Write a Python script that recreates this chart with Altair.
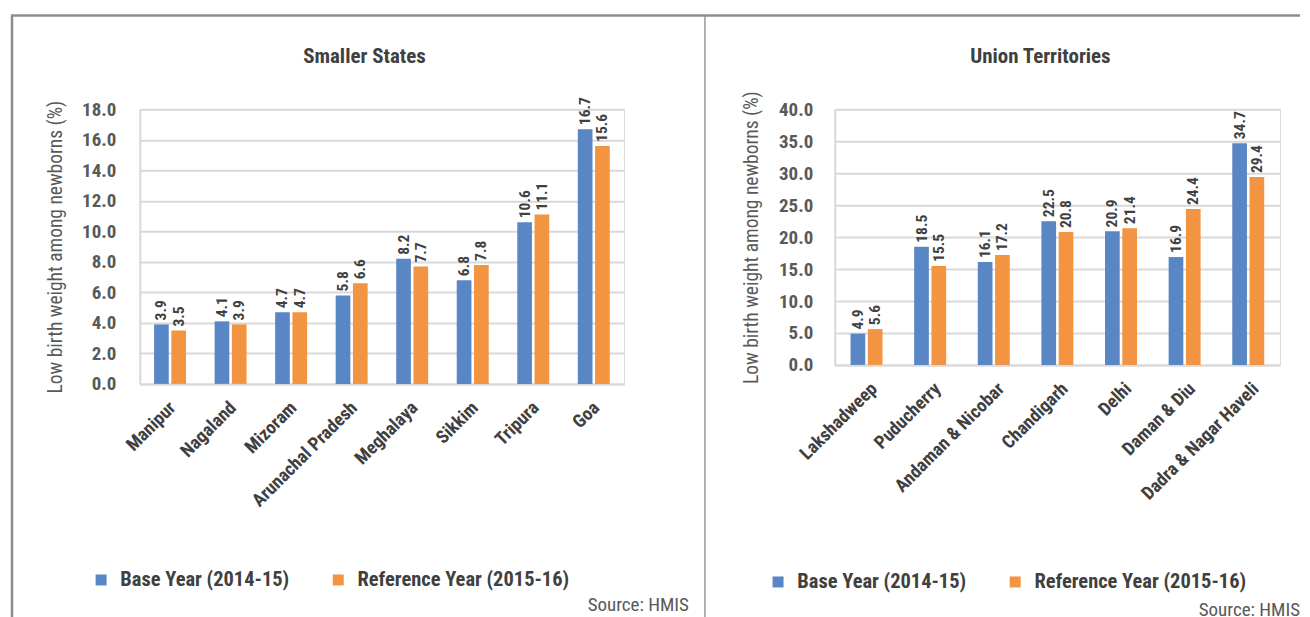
import altair as alt
import pandas as pd

FONT = "Liberation Sans Narrow, Roboto Condensed, DejaVu Sans Condensed, Roboto, sans-serif"

series = ["Base Year (2014-15)", "Reference Year (2015-16)"]
series_colors = ["#5987C5", "#F39442"]

state_names = ["Manipur", "Nagaland", "Mizoram", "Arunachal Pradesh",
               "Meghalaya", "Sikkim", "Tripura", "Goa"]
state_base = [3.9, 4.1, 4.7, 5.8, 8.2, 6.8, 10.6, 16.7]
state_ref = [3.5, 3.9, 4.7, 6.6, 7.7, 7.8, 11.1, 15.6]
state_ticks = [0, 2, 4, 6, 8, 10, 12, 14, 16, 18]

ut_names = ["Lakshadweep", "Puducherry", "Andaman & Nicobar", "Chandigarh",
            "Delhi", "Daman & Diu", "Dadra & Nagar Haveli"]
ut_base = [4.9, 18.5, 16.1, 22.5, 20.9, 16.9, 34.7]
ut_ref = [5.6, 15.5, 17.2, 20.8, 21.4, 24.4, 29.4]
ut_ticks = [0, 5, 10, 15, 20, 25, 30, 35, 40]

titles = ["Smaller States", "Union Territories"]
y_title = "Low birth weight among newborns (%)"
source_text = "Source: HMIS"

TXT = "#404040"
GRAY = "#595959"
GRID = "#d9d9d9"
FRAME = "#8c8c8c"


def long_df(names, a, b):
    rows = []
    for n, v1, v2 in zip(names, a, b):
        rows.append({"cat": n, "series": series[0], "value": v1})
        rows.append({"cat": n, "series": series[1], "value": v2})
    return pd.DataFrame(rows)


def panel(names, a, b, ticks, title, w, h, pad_inner, title_x, ytitle_x,
          ylabel_pad, xlabel_off, legend_x, legend_y, source_x, source_y,
          frame_rules):
    df = long_df(names, a, b)
    base = alt.Chart(df)
    x = alt.X("cat:N", sort=names, title=None,
              scale=alt.Scale(paddingInner=pad_inner, paddingOuter=pad_inner / 2),
              axis=alt.Axis(labelAngle=-45, labelAlign="right", labelBaseline="top",
                            labelPadding=14, labelOffset=xlabel_off,
                            labelFontSize=18.5, labelFontWeight="bold",
                            labelColor=TXT, labelFont=FONT,
                            ticks=False, tickSize=0, domainColor=GRID, domainWidth=2,
                            grid=False, labelLimit=300))
    xo = alt.XOffset("series:N", sort=series,
                     scale=alt.Scale(paddingInner=0.15, paddingOuter=0))
    y = alt.Y("value:Q", scale=alt.Scale(domain=[ticks[0], ticks[-1]], nice=False),
              axis=alt.Axis(values=ticks, format=".1f", labelFontSize=19,
                            labelFontWeight="bold", labelColor=GRAY, labelFont=FONT,
                            labelPadding=ylabel_pad, ticks=False, tickSize=0,
                            domainColor=GRID, domainWidth=2, gridColor=GRID,
                            gridWidth=2, title=y_title, titleFontSize=19.5,
                            titleFontWeight="normal", titleColor=GRAY,
                            titleFont=FONT, titleX=ytitle_x, titleY=h / 2,
                            titleAngle=270, titleAlign="center",
                            titleBaseline="middle"))
    color = alt.Color("series:N",
                      scale=alt.Scale(domain=series, range=series_colors),
                      legend=alt.Legend(orient="none", legendX=legend_x,
                                        legendY=legend_y, direction="horizontal",
                                        title=None, symbolType="square",
                                        symbolSize=121, symbolStrokeWidth=0,
                                        labelFontSize=20.5, labelFontWeight="bold",
                                        labelColor=TXT, labelFont=FONT,
                                        labelOffset=9, columnPadding=38.5,
                                        padding=0, labelLimit=400))
    bars = base.mark_bar().encode(x=x, xOffset=xo, y=y, color=color)
    labels = base.mark_text(angle=270, align="left", baseline="middle", dx=4,
                            fontSize=15.5, fontWeight="bold", color=TXT,
                            font=FONT).encode(
        x=x, xOffset=xo, y=y, text=alt.Text("value:Q", format=".1f"))
    one = alt.Data(values=[{"k": 0}])
    layers = [bars, labels]
    for r in frame_rules:
        rule = alt.Chart(one).mark_rule(color=r["c"], strokeWidth=r["sw"])
        if r["kind"] == "v":
            rule = rule.encode(x=alt.value(r["x"]), y=alt.value(r["y"]),
                               y2=alt.value(r["y2"]))
        else:
            rule = rule.encode(x=alt.value(r["x"]), x2=alt.value(r["x2"]),
                               y=alt.value(r["y"]))
        layers.append(rule)
    src = alt.Chart(one).mark_text(align="right", baseline="middle", fontSize=19,
                                   color=GRAY, font=FONT).encode(
        x=alt.value(source_x), y=alt.value(source_y), text=alt.value(source_text))
    ttl = alt.Chart(one).mark_text(align="center", baseline="middle", fontSize=21,
                                   fontWeight="bold", color=TXT, font=FONT).encode(
        x=alt.value(title_x), y=alt.value(-52), text=alt.value(title))
    layers += [src, ttl]
    return alt.layer(*layers).properties(width=w, height=h)


left = panel(state_names, state_base, state_ref, state_ticks, titles[0],
             485, 275, 0.472, 225, -84, 24, -4, -49, 461, 550, 496,
             [{"kind": "v", "x": -128, "y": -94, "y2": 514, "c": FRAME, "sw": 2.5},
              {"kind": "h", "x": -129, "x2": 566, "y": -94, "c": FRAME, "sw": 2.5}])
right = panel(ut_names, ut_base, ut_ref, ut_ticks, titles[1],
              446, 256, 0.498, 206, -83, 22, 1, -67, 463, 466, 501,
              [{"kind": "v", "x": -130, "y": -94, "y2": 514, "c": "#999999", "sw": 1.5},
               {"kind": "h", "x": -130, "x2": 466, "y": -94, "c": FRAME, "sw": 2.5}])

chart = alt.hconcat(left, right, spacing=211, bounds="flush").resolve_scale(
    color="independent", x="independent", y="independent"
).resolve_legend(color="independent").properties(
    padding={"left": 1, "top": 5, "right": 0, "bottom": 0}
).configure_view(stroke=None).configure(font=FONT)

chart.save("out.html", embed_options={"renderer": "svg", "actions": False})
